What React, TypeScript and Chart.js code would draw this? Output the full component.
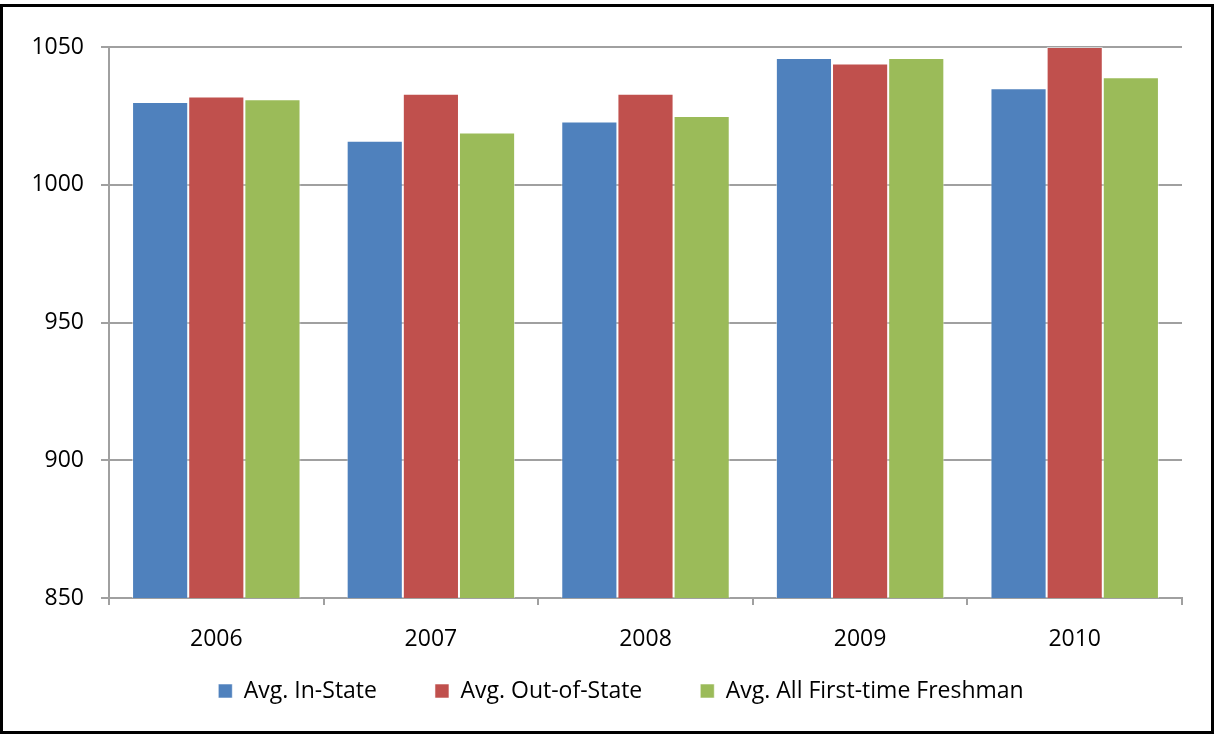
import React, { useEffect, useRef } from "react";
import { Chart, registerables } from "chart.js";

Chart.register(...registerables);

const categories = ["2006", "2007", "2008", "2009", "2010"];
const inState = [1030, 1016, 1023, 1046, 1035];
const outOfState = [1032, 1033, 1033, 1044, 1050];
const allFreshman = [1031, 1019, 1025, 1046, 1039];
const seriesNames = ["Avg. In-State", "Avg. Out-of-State", "Avg. All First-time Freshman"];

const FONT = "'Open Sans', Lato, sans-serif";
const LEGEND_PAD = 58;
const FONT_SIZE = 23;

const legendShift = {
  id: "legendShift",
  afterLayout(chart: any) {
    const l = chart.legend;
    if (!l) return;
    const desiredTop = 684 - FONT_SIZE / 2 - LEGEND_PAD;
    const dy = desiredTop - l.top;
    l.top += dy;
    l.bottom += dy;
    l.left += 57;
  },
};

export default function App() {
  const ref = useRef<HTMLCanvasElement | null>(null);

  useEffect(() => {
    if (!ref.current) return;
    const gridColor = "#a0a0a0";
    const edge = "rgba(255,255,255,0.55)";
    const chart = new Chart(ref.current, {
      type: "bar",
      data: {
        labels: categories,
        datasets: [
          { label: seriesNames[0], data: inState, backgroundColor: "#4F81BD", borderColor: edge, borderWidth: 1 },
          { label: seriesNames[1], data: outOfState, backgroundColor: "#C0504D", borderColor: edge, borderWidth: 1 },
          { label: seriesNames[2], data: allFreshman, backgroundColor: "#9BBB59", borderColor: edge, borderWidth: 1 },
        ],
      },
      options: {
        animation: false,
        responsive: false,
        maintainAspectRatio: false,
        layout: { padding: { top: 40, right: 29, left: 0, bottom: -18 } },
        datasets: { bar: { categoryPercentage: 0.785, barPercentage: 1 } },
        plugins: {
          tooltip: { enabled: false },
          legend: {
            position: "bottom",
            labels: {
              boxWidth: 14,
              boxHeight: 14,
              padding: LEGEND_PAD,
              color: "#000",
              font: { family: FONT, size: FONT_SIZE },
            },
          },
        },
        scales: {
          x: {
            grid: { offset: true, drawOnChartArea: false, drawTicks: true, tickLength: 7, color: gridColor, lineWidth: 2 },
            border: { display: true, color: gridColor, width: 2 },
            ticks: { color: "#000", padding: 21, font: { family: FONT, size: FONT_SIZE } },
            afterFit: (s: any) => { s.height = 60; },
          },
          y: {
            min: 850,
            max: 1050,
            grid: { color: gridColor, lineWidth: 2, tickLength: 8 },
            border: { display: true, color: gridColor, width: 2 },
            ticks: {
              stepSize: 50,
              color: "#000",
              padding: 17,
              font: { family: FONT, size: FONT_SIZE },
              callback: (v: any) => String(v),
            },
            afterFit: (s: any) => { s.width = 106; },
          },
        },
      },
      plugins: [legendShift],
    });
    return () => chart.destroy();
  }, []);

  return (
    <div
      style={{
        position: "absolute",
        left: 0,
        top: 4,
        width: 1214,
        height: 730,
        boxSizing: "border-box",
        border: "3px solid #000",
        background: "#fff",
      }}
    >
      <canvas ref={ref} width={1208} height={724} style={{ display: "block", width: 1208, height: 724 }} />
    </div>
  );
}
